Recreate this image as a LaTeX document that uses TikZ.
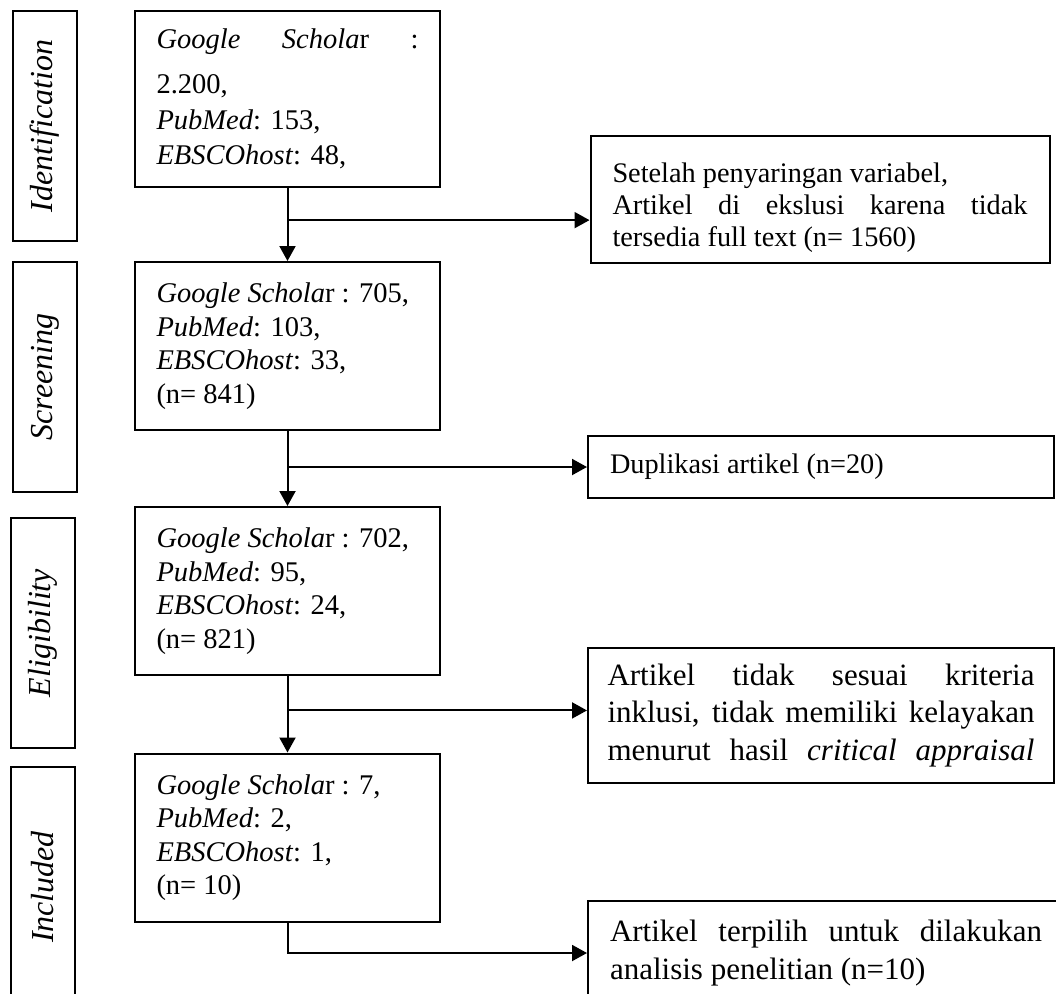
\documentclass[tikz,border=0pt]{standalone}
\usepackage{fontspec}
\setmainfont{Liberation Serif}
\usetikzlibrary{arrows.meta,calc}
\hyphenpenalty=10000
\tolerance=10000

\begin{document}
\begin{tikzpicture}[x=0.5pt,y=-0.5pt,line width=1pt,
    stage/.style={draw,rotate=90,minimum width=115pt,minimum height=32pt,inner sep=0pt,
      font=\fontsize{16pt}{19pt}\selectfont\itshape},
    count/.style={draw,text width=131pt,inner xsep=10.75pt,align=justify,minimum height=84pt,
      font=\fontsize{14.25pt}{16.75pt}\selectfont},
    excl/.style={draw,inner xsep=11pt,align=justify,font=\fontsize{14.15pt}{16pt}\selectfont},
    exclbig/.style={excl,font=\fontsize{15.5pt}{18.75pt}\selectfont}]
  \useasboundingbox (0,0) rectangle (1056,993);
  \clip (0,0) rectangle (1056,993);
  \draw
    (45,126) node[stage] (s1) {Identification}
    (45,377) node[stage] (s2) {Screening}
    (43,633) node[stage] (s3) {Eligibility}
    (43,887) node[stage,minimum width=120pt] (s4) {Included}
    (287.5,99) node[count,minimum height=88pt,font=\fontsize{14.25pt}{17.75pt}\selectfont] (b1)
      {\textit{Google}\hfill\textit{Schola}r\hfill:\\[4.75pt] 2.200,\\ \textit{PubMed}: 153,\\ \textit{EBSCOhost}: 48,}
    (287.5,346) node[count] (b2)
      {\textit{Google Schola}r : 705,\\ \textit{PubMed}: 103,\\ \textit{EBSCOhost}: 33,\\ (n= 841)}
    (287.5,591) node[count] (b3)
      {\textit{Google Schola}r : 702,\\ \textit{PubMed}: 95,\\ \textit{EBSCOhost}: 24,\\ (n= 821)}
    (287.5,837.5) node[count] (b4)
      {\textit{Google Schola}r : 7,\\ \textit{PubMed}: 2,\\ \textit{EBSCOhost}: 1,\\ (n= 10)}
    (820,199.5) node[excl,text width=207.5pt,minimum height=63.5pt] (x1)
      {\rule{0pt}{18.5pt}Setelah penyaringan variabel,\\ Artikel di ekslusi karena tidak tersedia full text (n= 1560)}
    (821,467) node[excl,text width=211pt,minimum height=31pt] (x2) {Duplikasi artikel (n=20)}
    (821,715.5) node[exclbig,text width=213.5pt,inner xsep=9.75pt,minimum height=67.5pt] (x3)
      {\parfillskip=0pt Artikel tidak sesuai kriteria inklusi, tidak memiliki kelayakan menurut hasil \textit{critical appraisal}\par}
    (587,900) node[exclbig,anchor=north west,text width=216pt,minimum height=52pt] (x4)
      {Artikel terpilih untuk dilakukan analisis penelitian (n=10)};
  \begin{scope}[-{Triangle[length=7.5pt,width=8pt]}]
    \coordinate (c1) at ($(b1.south)!0.44!(b2.north)$);
    \coordinate (c2) at ($(b2.south)!0.48!(b3.north)$);
    \coordinate (c3) at ($(b3.south)!0.45!(b4.north)$);
    \draw (b1.south) to (b2.north);
    \draw (c1) to (c1 -| x1.west);
    \draw (b2.south) to (b3.north);
    \draw (c2) to (c2 -| x2.west);
    \draw (b3.south) to (b4.north);
    \draw (c3) to (c3 -| x3.west);
    \draw (b4.south) |- (x4.west);
  \end{scope}
\end{tikzpicture}
\end{document}
